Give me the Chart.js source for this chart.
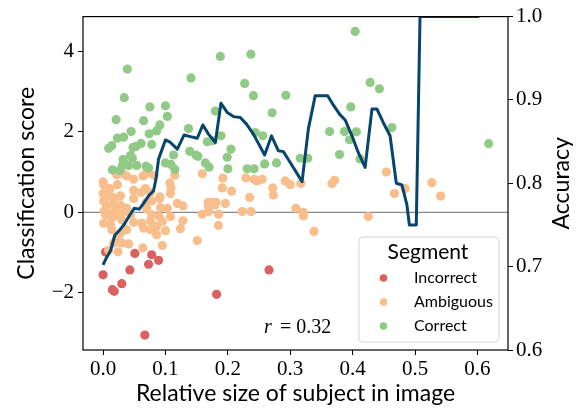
<!DOCTYPE html>
<html>
<head>
<meta charset="utf-8">
<script src="https://cdn.jsdelivr.net/npm/chart.js@4.4.0/dist/chart.umd.min.js"></script>
<style>
  html, body { margin: 0; padding: 0; background: #fff; }
  canvas { display: block; }
</style>
</head>
<body>
<canvas id="scoreChart" width="584" height="412"></canvas>
<script>
// [relative size, classification score]
const incorrect = [
  [0.000,-1.553],[0.004,-0.989],[0.015,-1.921],[0.018,-1.963],[0.030,-1.774],[0.043,-1.431],
  [0.051,-1.021],[0.067,-3.050],[0.073,-1.291],[0.078,-1.055],[0.089,-1.193],[0.182,-2.037],[0.266,-1.431]
];
const ambiguous = [
  [0.022,0.933],[0.032,0.957],[0.038,0.901],[0.049,0.820],[0.064,0.901],[0.070,0.974],[0.082,0.918],
  [0.115,0.918],[0.159,0.957],[0.192,0.852],[0.229,0.852],[0.242,0.820],[0.255,0.820],
  [0.001,0.687],[0.011,0.589],[0.023,0.687],[0.049,0.550],[0.061,0.491],[0.068,0.589],[0.076,0.491],
  [0.091,0.385],[0.107,0.729],[0.109,0.606],[0.191,0.606],[0.206,0.525],[0.272,0.606],[0.300,0.687],[0.317,0.712],
  [0.000,0.466],[0.005,0.427],[0.014,0.385],[0.001,0.280],[0.017,0.319],[0.028,0.410],[0.049,0.344],
  [0.017,0.182],[0.006,0.182],[0.028,0.182],[0.038,0.098],[0.069,0.238],[0.078,0.280],[0.091,0.344],
  [0.108,0.466],[0.119,0.221],[0.128,0.157],[0.168,0.238],[0.175,0.245],[0.181,0.245],[0.169,0.140],
  [0.179,0.182],[0.196,0.221],[0.235,0.368],[0.273,0.427],
  [0.002,0.034],[0.009,-0.025],[0.020,0.098],[0.022,-0.081],[0.033,0.017],[0.044,-0.049],[0.070,0.083],
  [0.092,0.115],[0.103,0.098],[0.078,-0.064],[0.090,-0.106],[0.108,-0.106],[0.076,-0.211],[0.062,-0.270],
  [0.049,-0.245],[0.030,-0.187],[0.014,-0.147],[0.004,-0.064],[0.159,-0.049],[0.169,0.017],[0.185,-0.049],
  [0.223,0.017],[0.237,0.017],
  [0.001,-0.270],[0.012,-0.309],[0.014,-0.432],[0.028,-0.515],[0.038,-0.432],[0.065,-0.393],[0.076,-0.432],
  [0.086,-0.351],[0.086,-0.555],[0.100,-0.456],[0.124,-0.407],[0.128,-0.211],[0.095,-0.228],[0.185,-0.326],
  [0.022,-0.638],[0.030,-0.761],[0.041,-0.785],
  [0.017,-0.761],[0.024,-0.982],[0.064,-0.883],[0.095,-0.825],[0.151,-0.702],[0.009,-0.947],
  [0.454,0.999],[0.367,0.712],[0.371,0.795],[0.467,0.466],[0.484,0.589],[0.527,0.736],[0.541,0.402],
  [0.309,0.098],[0.321,0.000],[0.321,-0.088],[0.338,-0.474],[0.425,-0.106],
  [0.247,0.778],[0.292,0.778],[0.000,0.753]
];
const correct = [
  [0.039,3.558],[0.034,2.847],[0.021,2.299],[0.009,1.588],[0.014,1.654],[0.023,1.840],[0.033,1.865],
  [0.045,2.005],[0.075,2.618],[0.100,2.643],[0.103,2.380],[0.065,2.275],[0.091,2.169],[0.086,2.022],
  [0.074,1.948],[0.078,1.686],[0.061,1.710],[0.053,1.637],[0.048,1.612],[0.044,1.409],[0.047,1.350],
  [0.032,1.310],[0.036,1.188],[0.041,1.163],[0.031,1.163],[0.015,1.055],[0.027,1.040],[0.054,1.163],
  [0.069,1.146],[0.073,1.097],[0.100,1.227],[0.109,1.188],[0.115,1.065],[0.113,1.423],[0.139,1.514],
  [0.149,1.423],[0.152,1.391],[0.137,2.079],[0.141,3.337],[0.167,1.752],[0.176,1.777],[0.180,2.513],
  [0.189,1.899],[0.205,1.571],[0.199,1.367],[0.188,3.870],[0.237,3.926],[0.227,3.200],[0.241,2.896],
  [0.271,2.471],[0.293,2.906],[0.256,1.899],[0.244,1.980],[0.259,1.202],[0.278,1.227],[0.231,1.080],
  [0.242,1.080],[0.200,1.080],[0.164,1.227],[0.170,1.121],[0.316,1.342],[0.328,1.342],[0.404,4.491],
  [0.428,3.224],[0.443,3.067],[0.397,2.618],[0.363,2.005],[0.387,2.005],[0.406,1.998],[0.395,1.801],
  [0.463,2.103],[0.379,1.433],[0.412,1.325],[0.618,1.703]
];
// rolling accuracy (right axis)
const accX = [0.000,0.005,0.012,0.019,0.027,0.035,0.043,0.050,0.058,0.065,0.073,0.081,0.085,0.089,0.100,
  0.108,0.119,0.130,0.140,0.151,0.160,0.169,0.180,0.189,0.199,0.209,0.220,0.230,0.241,0.259,0.270,0.281,
  0.289,0.300,0.319,0.329,0.340,0.360,0.369,0.379,0.388,0.399,0.409,0.420,0.431,0.439,0.449,0.460,0.470,
  0.479,0.487,0.491,0.502,0.508,0.603];
const accY = [0.702,0.710,0.719,0.738,0.744,0.752,0.762,0.770,0.769,0.776,0.785,0.791,0.806,0.829,0.852,
  0.849,0.841,0.858,0.856,0.854,0.870,0.859,0.849,0.896,0.885,0.880,0.879,0.871,0.859,0.834,0.857,0.839,
  0.838,0.825,0.802,0.865,0.905,0.905,0.894,0.883,0.876,0.857,0.837,0.819,0.889,0.889,0.873,0.857,0.800,
  0.798,0.774,0.750,0.750,1.000,1.000];

const xTicks = [0, 0.1, 0.2, 0.3, 0.4, 0.5, 0.6];
const yTicks = [-2, 0, 2, 4];
const accTicks = [0.6, 0.7, 0.8, 0.9, 1.0];
const segments = ['Incorrect', 'Ambiguous', 'Correct'];

const colors = { Incorrect: 'rgb(219,96,96)', Ambiguous: 'rgb(248,190,140)', Correct: 'rgb(145,201,134)' };
const lineColor = '#06466c';
const tickFont = { family: 'Liberation Serif', size: 21 };
const labelFont = 'Lato';

const toPoints = arr => arr.map(p => ({ x: p[0], y: p[1] }));

const textPlugin = {
  id: 'extraText',
  afterDraw(chart) {
    const c = chart.ctx, a = chart.chartArea;
    c.save();
    // frame
    c.strokeStyle = '#000';
    c.lineWidth = 1.2;
    c.strokeRect(a.left, a.top, a.right - a.left, a.bottom - a.top);

    c.fillStyle = '#000';
    c.textAlign = 'center';
    c.textBaseline = 'middle';
    c.font = '23px ' + labelFont;
    c.fillText('Relative size of subject in image', (a.left + a.right) / 2, 394);
    c.save();
    c.translate(27, (a.top + a.bottom) / 2);
    c.rotate(-Math.PI / 2);
    c.fillText('Classification score', 0, 0);
    c.restore();
    c.save();
    c.translate(562, (a.top + a.bottom) / 2);
    c.rotate(-Math.PI / 2);
    c.fillText('Accuracy', 0, 0);
    c.restore();

    // r = 0.32
    c.textAlign = 'left';
    c.textBaseline = 'alphabetic';
    c.font = 'italic 20px Liberation Serif';
    c.fillText('r', 264, 333);
    c.font = '20px Liberation Serif';
    c.fillText('= 0.32', 280, 333);

    // legend
    const lx = 359, ly = 237, lw = 140, lh = 105;
    c.beginPath();
    c.roundRect(lx, ly, lw, lh, 4);
    c.fillStyle = 'rgba(255,255,255,0.8)';
    c.fill();
    c.strokeStyle = '#d5d5d5';
    c.lineWidth = 1;
    c.stroke();
    c.fillStyle = '#000';
    c.textAlign = 'center';
    c.textBaseline = 'middle';
    c.font = '21px ' + labelFont;
    c.fillText('Segment', 428, 252);
    c.textAlign = 'left';
    c.font = '16px ' + labelFont;
    segments.forEach((s, i) => {
      const yy = 278 + i * 24;
      c.beginPath();
      c.arc(383.5, yy, 3.8, 0, Math.PI * 2);
      c.fillStyle = colors[s];
      c.fill();
      c.fillStyle = '#000';
      c.fillText(s, 414, yy);
    });
    c.restore();
  }
};

const ctx = document.getElementById('scoreChart').getContext('2d');
new Chart(ctx, {
  type: 'scatter',
  data: {
    datasets: [
      {
        label: 'Accuracy', type: 'line', yAxisID: 'y2',
        data: accX.map((x, i) => ({ x: x, y: accY[i] })),
        borderColor: lineColor, borderWidth: 3, pointRadius: 0, tension: 0,
        fill: false, borderJoinStyle: 'round', order: 0
      },
      { label: 'Correct', data: toPoints(correct), backgroundColor: colors.Correct, pointRadius: 4.6, borderWidth: 0, order: 1 },
      { label: 'Ambiguous', data: toPoints(ambiguous), backgroundColor: colors.Ambiguous, pointRadius: 4.6, borderWidth: 0, order: 2 },
      { label: 'Incorrect', data: toPoints(incorrect), backgroundColor: colors.Incorrect, pointRadius: 4.6, borderWidth: 0, order: 3 },
      {
        label: 'zero', type: 'line', data: [{ x: -1, y: 0 }, { x: 1, y: 0 }],
        borderColor: '#8a8a8a', borderWidth: 1.2, pointRadius: 0, order: 4
      }
    ]
  },
  options: {
    responsive: false,
    animation: false,
    devicePixelRatio: 1,
    layout: { padding: { top: 13 } },
    plugins: { legend: { display: false }, tooltip: { enabled: false } },
    scales: {
      x: {
        type: 'linear', min: -0.0321, max: 0.649,
        afterFit: s => { s.height = 62; },
        afterBuildTicks: s => { s.ticks = xTicks.map(v => ({ value: v })); },
        ticks: { callback: v => v.toFixed(1), font: tickFont, color: '#000', padding: 2, maxRotation: 0, autoSkip: false },
        grid: { drawOnChartArea: false, tickLength: 5, tickColor: '#000' },
        border: { display: false }
      },
      y: {
        type: 'linear', position: 'left', min: -3.42, max: 4.86,
        afterFit: s => { s.width = 83; },
        afterBuildTicks: s => { s.ticks = yTicks.map(v => ({ value: v })); },
        ticks: { callback: v => (v < 0 ? '\u2212' + Math.abs(v) : String(v)), font: tickFont, color: '#000', padding: 4 },
        grid: { drawOnChartArea: false, tickLength: 5, tickColor: '#000' },
        border: { display: false }
      },
      y2: {
        type: 'linear', position: 'right', min: 0.6, max: 1.0,
        afterFit: s => { s.width = 76; },
        afterBuildTicks: s => { s.ticks = accTicks.map(v => ({ value: v })); },
        ticks: { callback: v => v.toFixed(1), font: tickFont, color: '#000', padding: 3 },
        grid: { drawOnChartArea: false, tickLength: 5, tickColor: '#000' },
        border: { display: false }
      }
    }
  },
  plugins: [textPlugin]
});
</script>
</body>
</html>
